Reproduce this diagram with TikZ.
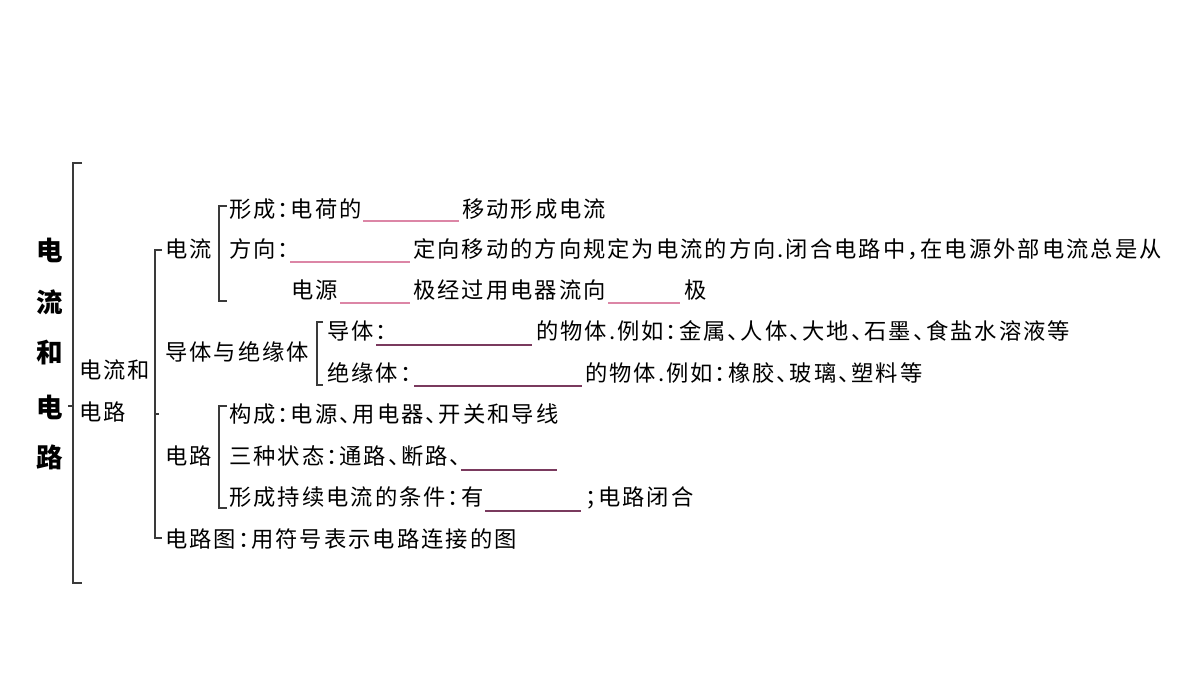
\documentclass[tikz,border=0pt]{standalone}
\usepackage{fontspec}
\setmainfont{Noto Sans CJK SC}[RawFeature=+halt, LetterSpace=9]
\newfontfamily\titlefont{Noto Sans CJK SC}[LetterSpace=0]
\definecolor{brk}{HTML}{3A3A3A}
\definecolor{blankpink}{HTML}{DC86A6}
\definecolor{blankdark}{HTML}{7A3A5E}
\begin{document}
\begin{tikzpicture}[x=1pt,y=-1pt,
  txt/.style={anchor=base west, inner sep=0pt, font=\fontsize{22.3}{26}\selectfont, text=black},
  ttl/.style={anchor=center, inner sep=0pt, font=\titlefont\bfseries\fontsize{26.5}{30}\selectfont},
  brace/.style={draw=brk, line width=1.3pt},
  blank/.style={draw=blankpink, line width=1.1pt},
  blankd/.style={draw=blankdark, line width=1.1pt}]
\useasboundingbox (0,0) rectangle (1200,675);
% title
\node[ttl] (t1) at (50,250) {电};
\node[ttl] (t2) at (50,302) {流};
\node[ttl] (t3) at (50,353) {和};
\node[ttl] (t4) at (50,407) {电};
\node[ttl] (t5) at (50,457) {路};
% outer bracket
\draw[brace] (82,163) -- (73,163) -- (73,583) -- (82,583);
\draw[brace] (73,406) -- (68,406);
\node[txt] (l1a) at (79,378.5) {电流和};
\node[txt] (l1b) at (79,420.5) {电路};
% second bracket
\draw[brace] (162,250) -- (155,250) -- (155,538) -- (162,538);
\draw[brace] (155,414) -- (159,414);
\node[txt] (l2a) at (165,257.5) {电流};
\node[txt] (l2b) at (165,360.5) {导体与绝缘体};
\node[txt] (l2c) at (165,464.5) {电路};
\node[txt] (l2d) at (165,547.5) {电路图：用符号表示电路连接的图};
% current bracket
\draw[brace] (227,206) -- (219,206) -- (219,301) -- (227,301);
\node[txt] (r1a) at (229,217.5) {形成：电荷的};
\coordinate (u1a) at (363,221); \coordinate (u1b) at (459,221);
\draw[blank] (u1a) -- (u1b);
\node[txt] (r1b) at (462,217.5) {移动形成电流};
\node[txt] (r2a) at (229,257.5) {方向：};
\coordinate (u2a) at (290,262); \coordinate (u2b) at (410,262);
\draw[blank] (u2a) -- (u2b);
\node[txt] (r2b) at (413,257.5) {定向移动的方向规定为电流的方向.闭合电路中，在电源外部电流总是从};
\node[txt] (r3a) at (291,298.5) {电源};
\coordinate (u3a) at (340,303); \coordinate (u3b) at (410,303);
\draw[blank] (u3a) -- (u3b);
\node[txt] (r3b) at (413,298.5) {极经过用电器流向};
\coordinate (u4a) at (608,303); \coordinate (u4b) at (680,303);
\draw[blank] (u4a) -- (u4b);
\node[txt] (r3c) at (684,298.5) {极};
% conductor bracket
\draw[brace] (323,322) -- (317,322) -- (317,385) -- (323,385);
\node[txt] (r4a) at (327,339.5) {导体：};
\coordinate (u5a) at (376,345); \coordinate (u5b) at (532,345);
\draw[blankd] (u5a) -- (u5b);
\node[txt] (r4b) at (536,339.5) {的物体.例如：金属、人体、大地、石墨、食盐水溶液等};
\node[txt] (r5a) at (327,381.5) {绝缘体：};
\coordinate (u6a) at (414,386); \coordinate (u6b) at (582,386);
\draw[blankd] (u6a) -- (u6b);
\node[txt] (r5b) at (585,381.5) {的物体.例如：橡胶、玻璃、塑料等};
% circuit bracket
\draw[brace] (227,406) -- (219,406) -- (219,508) -- (227,508);
\node[txt] (r6a) at (229,422.5) {构成：电源、用电器、开关和导线};
\node[txt] (r7a) at (229,464.5) {三种状态：通路、断路、};
\coordinate (u7a) at (461,470); \coordinate (u7b) at (557,470);
\draw[blankd] (u7a) -- (u7b);
\node[txt] (r8a) at (229,505.5) {形成持续电流的条件：有};
\coordinate (u8a) at (485,511); \coordinate (u8b) at (581,511);
\draw[blankd] (u8a) -- (u8b);
\node[txt] (r8b) at (585,505.5) {；电路闭合};
\end{tikzpicture}
\end{document}
